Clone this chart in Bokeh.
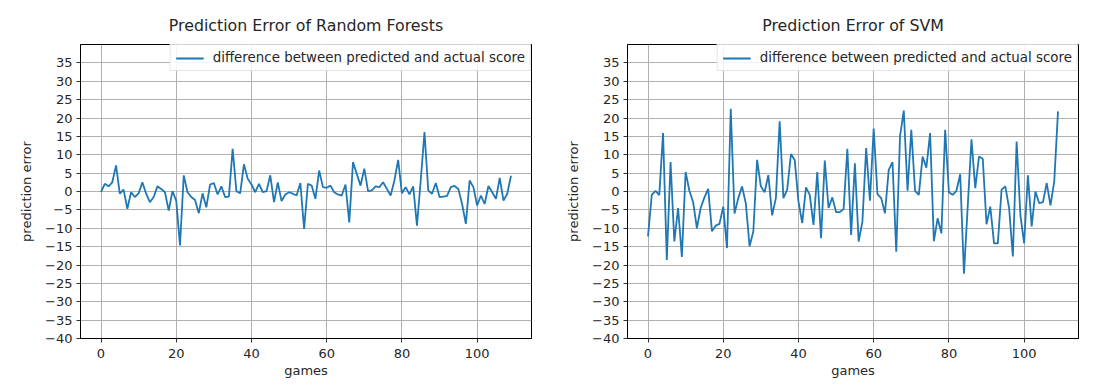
from bokeh.plotting import figure
from bokeh.layouts import row
from bokeh.models import FixedTicker, Range1d, Legend, LegendItem
from bokeh.embed import file_html
from bokeh.resources import INLINE

games = list(range(110))

rf_error = [
    -0.2, 2.1, 1.4, 2.5, 7.1, -0.6, 0.5, -4.7, -0.2, -1.5,
    -0.5, 2.5, -0.6, -2.9, -1.5, 1.4, 0.7, -0.2, -5.2, 0.1,
    -2.5, -14.7, 4.4, -0.2, -1.5, -2.3, -5.9, -0.5, -4.3, 1.9,
    2.3, -0.8, 1.4, -1.5, -1.4, 11.6, 0.1, -0.5, 7.4, 3.5,
    1.9, -0.2, 2.1, -0.2, 0.1, 4.4, -2.9, 2.5, -2.6, -0.8,
    -0.2, -0.6, -1.1, 2.3, -10.2, 2.1, 1.6, -2.0, 5.7, 1.2,
    1.0, 1.6, -0.2, -0.8, -1.1, 1.9, -8.4, 8.0, 4.8, 1.6,
    6.2, 0.1, 0.3, 1.4, 1.2, 2.5, 0.7, -1.1, 3.0, 8.6,
    -0.5, 1.2, -0.8, 1.4, -9.3, 3.0, 16.2, 0.3, -0.6, 2.3,
    -1.5, -1.4, -1.2, 1.2, 1.5, 0.7, -3.4, -8.8, 3.0, 1.2,
    -3.8, -1.1, -3.4, 1.5, -0.2, -2.0, 3.7, -2.5, -0.6, 4.3,
]

svm_error = [
    -12.2, -0.9, 0.2, -1.0, 15.9, -18.6, 8.0, -13.6, -4.5, -17.8,
    5.3, 0.2, -2.9, -10.0, -4.5, -1.6, 0.7, -10.8, -9.3, -8.8,
    -4.1, -15.4, 22.5, -6.0, -1.8, 1.4, -3.2, -14.9, -10.9, 8.6,
    1.4, -0.2, 4.5, -6.5, -1.8, 19.1, -1.8, 0.5, 10.2, 8.6,
    -2.7, -8.6, 1.1, -0.9, -9.1, 5.3, -12.7, 8.4, -4.5, -1.6,
    -5.6, -5.6, -4.8, 11.6, -11.8, 7.7, -13.6, -8.2, 11.8, -2.5,
    17.1, -0.7, -1.8, -5.9, 5.9, 8.0, -16.4, 15.0, 22.0, 0.2,
    16.8, 0.2, -0.9, 9.5, 6.5, 15.9, -13.5, -7.3, -11.4, 16.8,
    -0.2, -0.9, 0.2, 4.7, -22.4, -4.0, 14.2, 0.9, 9.5, 8.9,
    -8.9, -4.1, -14.1, -14.1, 0.5, 1.4, -4.5, -17.7, 13.6, -6.4,
    -14.1, 4.4, -9.5, 0.0, -3.2, -2.9, 2.3, -3.8, 2.7, 21.8,
]

titles = ["Prediction Error of Random Forests", "Prediction Error of SVM"]
legend_label = "difference between predicted and actual score"
x_label = "games"
y_label = "prediction error"
x_ticks = [0, 20, 40, 60, 80, 100]
y_ticks = list(range(-40, 40, 5))

FONT = "DejaVu Sans"
LINE_COLOR = "#1f77b4"
TEXT = "#262626"


def make_panel(title, values, width, border_left, border_right):
    p = figure(width=width, height=384, output_backend="svg", toolbar_location=None,
               x_range=Range1d(-5.45, 114.45), y_range=Range1d(-40, 40),
               min_border_left=border_left, min_border_right=border_right,
               min_border_top=44, min_border_bottom=46)
    p.title.text = title
    p.title.align = "center"
    p.title.text_font = FONT
    p.title.text_font_size = "15.8px"
    p.title.text_font_style = "normal"
    p.title.text_color = TEXT
    p.title.offset = 0
    p.title.standoff = 20

    r = p.line(games, values, line_color=LINE_COLOR, line_width=1.8)

    legend = Legend(items=[LegendItem(label=legend_label, renderers=[r])],
                    location="top_right", margin=0, padding=5, spacing=0,
                    glyph_width=28, glyph_height=14, label_standoff=9,
                    label_text_font=FONT, label_text_font_size="13.4px",
                    label_text_color=TEXT, label_height=14,
                    border_line_color="#cccccc", border_line_width=1,
                    background_fill_alpha=0.85)
    p.add_layout(legend)

    for ax in (p.xaxis, p.yaxis):
        ax.major_label_text_font = FONT
        ax.major_label_text_font_size = "13px"
        ax.major_label_text_color = TEXT
        ax.axis_label_text_font = FONT
        ax.axis_label_text_font_size = "13px"
        ax.axis_label_text_font_style = "normal"
        ax.axis_label_text_color = TEXT
        ax.major_tick_in = 0
        ax.major_tick_out = 4
        ax.minor_tick_line_color = None
        ax.axis_line_color = "black"
        ax.major_tick_line_color = "#333333"

    p.xaxis.ticker = FixedTicker(ticks=x_ticks)
    p.yaxis.ticker = FixedTicker(ticks=y_ticks)
    p.yaxis.major_label_overrides = {v: ("\u2212" + str(-v)) if v < 0 else str(v) for v in y_ticks}
    p.xaxis.axis_label = x_label
    p.yaxis.axis_label = y_label
    p.xaxis.major_label_standoff = 6
    p.yaxis.major_label_standoff = 4
    p.xaxis.axis_label_standoff = 2
    p.yaxis.axis_label_standoff = 8

    p.xgrid.ticker = FixedTicker(ticks=x_ticks)
    p.ygrid.ticker = FixedTicker(ticks=y_ticks)
    for g in (p.xgrid, p.ygrid):
        g.grid_line_color = "#b0b0b0"
        g.grid_line_width = 1
        g.grid_line_alpha = 1.0

    p.outline_line_color = "black"
    p.outline_line_alpha = 1.0
    p.outline_line_width = 1
    p.background_fill_color = "white"
    p.border_fill_color = "white"
    return p


p1 = make_panel(titles[0], rf_error, 553, 80, 22)
p2 = make_panel(titles[1], svm_error, 555, 74, 30)
layout = row(p1, p2)

open("out.html", "w").write(file_html(layout, INLINE))
